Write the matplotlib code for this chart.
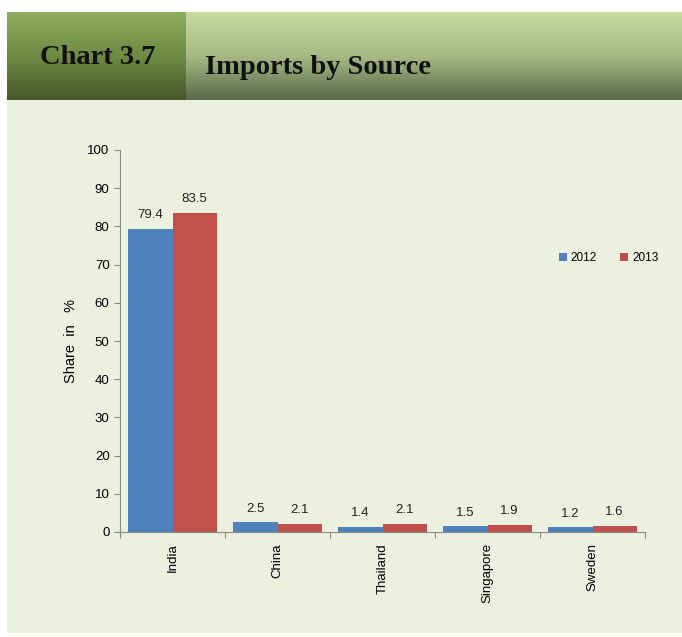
import numpy as np
import matplotlib.pyplot as plt
from matplotlib.colors import LinearSegmentedColormap

countries = ["India", "China", "Thailand", "Singapore", "Sweden"]
share_2012 = [79.4, 2.5, 1.4, 1.5, 1.2]
share_2013 = [83.5, 2.1, 2.1, 1.9, 1.6]
years = ["2012", "2013"]

blue = "#4F81BD"
red = "#C0504D"
panel = "#EBF0DF"

fig = plt.figure(figsize=(6.82, 6.37), dpi=100)
fig.patch.set_facecolor("white")

# light panel behind the chart
bg = fig.add_axes([7 / 682, 1 - 633 / 637, 675 / 682, 533 / 637])
bg.set_facecolor(panel)
bg.set_xticks([])
bg.set_yticks([])
for s in bg.spines.values():
    s.set_visible(False)

# header band with vertical gradients
grad = np.linspace(0, 1, 256).reshape(-1, 1)
left_cm = LinearSegmentedColormap.from_list("l", ["#8FAE5C", "#6E8A44", "#485829"])
right_cm = LinearSegmentedColormap.from_list("r", ["#C6D9A0", "#A6B985", "#5C6849"])
hb = 1 - 100 / 637
hh = 88 / 637
ax_l = fig.add_axes([7 / 682, hb, 179 / 682, hh])
ax_l.imshow(grad, aspect="auto", cmap=left_cm, extent=[0, 1, 0, 1])
ax_l.axis("off")
ax_r = fig.add_axes([186 / 682, hb, 496 / 682, hh])
ax_r.imshow(grad, aspect="auto", cmap=right_cm, extent=[0, 1, 0, 1])
ax_r.axis("off")

fig.text(98 / 682, 1 - 57 / 637, "Chart 3.7", family="Liberation Serif",
         weight="bold", fontsize=20.5, ha="center", va="center", color="#111111")
fig.text(205 / 682, 1 - 67 / 637, "Imports by Source", family="Liberation Serif",
         weight="bold", fontsize=20.5, ha="left", va="center", color="#111111")

# bar chart
ax = fig.add_axes([120 / 682, 1 - 532 / 637, 525 / 682, 382 / 637])
ax.set_facecolor("none")
x = np.arange(len(countries))
w = 0.42
b1 = ax.bar(x - w / 2, share_2012, w, color=blue, label=years[0])
b2 = ax.bar(x + w / 2, share_2013, w, color=red, label=years[1])
for bars in (b1, b2):
    for rect in bars:
        ax.text(rect.get_x() + rect.get_width() / 2, rect.get_height() + 2.0,
                f"{rect.get_height():.1f}", ha="center", va="bottom",
                fontsize=9.5, family="Liberation Sans", color="#222222")

ax.set_xlim(-0.5, len(countries) - 0.5)
ax.set_ylim(0, 100)
ax.set_yticks(range(0, 101, 10))
ax.set_xticks(np.arange(-0.5, len(countries), 1.0))
ax.set_xticklabels([])
ax.set_xticks(x, minor=True)
ax.set_xticklabels(countries, minor=True, rotation=90, family="Liberation Sans",
                   fontsize=9.5)
ax.tick_params(axis="x", which="minor", length=0, pad=8)
ax.tick_params(axis="x", which="major", length=4, color="#888888", direction="out")
ax.tick_params(axis="y", length=4, color="#888888", labelsize=9.5)
for lab in ax.get_yticklabels():
    lab.set_family("Liberation Sans")
for side in ("top", "right"):
    ax.spines[side].set_visible(False)
ax.spines["left"].set_color("#888888")
ax.spines["bottom"].set_color("#888888")
ax.set_ylabel("Share  in   %", family="Liberation Sans", fontsize=10.5, labelpad=7)

leg = ax.legend(loc="upper left", bbox_to_anchor=(0.815, 0.76), ncol=2, frameon=False,
                handlelength=0.7, handleheight=0.7, handletextpad=0.3,
                columnspacing=2.0, prop={"family": "Liberation Sans", "size": 8.5})

fig.savefig("out.png", dpi=100)
